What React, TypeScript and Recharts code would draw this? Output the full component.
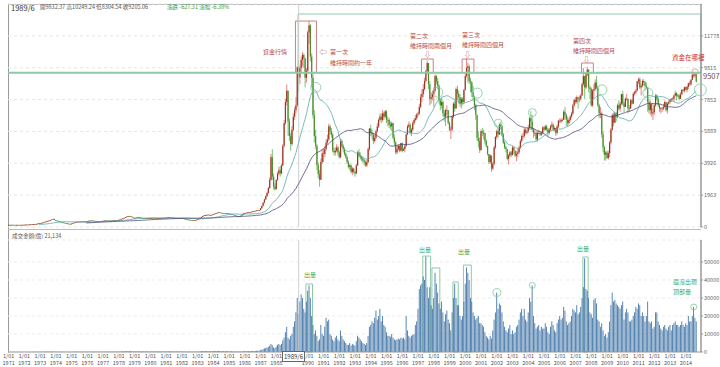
import React from "react";
import {
  ComposedChart,
  Bar,
  Line,
  XAxis,
  YAxis,
  CartesianGrid,
  ReferenceArea,
  ReferenceLine,
  ReferenceDot,
} from "recharts";

const FONT = '"Noto Sans CJK TC", "Noto Sans", sans-serif';

const startYear = 1971;
const endYear = 2014;

// monthly close, 1971/1 .. 2014/9 (one line per year)
const closes: number[] = [
  131, 134, 136, 133, 130, 128, 130, 133, 131, 129, 133, 137,
  140, 145, 150, 148, 152, 160, 165, 172, 180, 190, 205, 227,
  240, 255, 270, 300, 330, 350, 380, 400, 430, 470, 500, 430,
  400, 380, 350, 330, 300, 280, 260, 240, 220, 210, 195, 190,
  210, 240, 270, 300, 320, 330, 320, 330, 335, 340, 345, 345,
  360, 380, 390, 400, 390, 380, 370, 365, 370, 368, 370, 372,
  380, 390, 400, 395, 390, 385, 390, 400, 405, 410, 415, 422,
  440, 470, 500, 530, 560, 600, 640, 660, 680, 650, 600, 551,
  560, 580, 590, 600, 580, 560, 550, 540, 545, 535, 530, 540,
  545, 550, 540, 530, 520, 530, 540, 550, 560, 565, 570, 568,
  575, 590, 600, 610, 590, 580, 570, 560, 555, 550, 545, 551,
  540, 520, 500, 480, 460, 450, 440, 430, 425, 421, 430, 443,
  470, 510, 560, 620, 680, 720, 740, 750, 760, 720, 740, 761,
  780, 820, 850, 880, 900, 880, 870, 860, 850, 840, 835, 838,
  820, 800, 780, 750, 720, 690, 650, 640, 660, 700, 760, 835,
  860, 880, 900, 920, 920, 940, 960, 980, 1000, 1020, 1030, 1039,
  1150, 1300, 1500, 1700, 1900, 2100, 2400, 2900, 4300, 3100, 2500, 2340,
  2900, 3300, 3500, 3300, 3800, 5000, 6400, 7700, 8400, 6500, 5600, 5119,
  6000, 6800, 7200, 7500, 9832, 9205, 9800, 10300, 10600, 10400, 9200, 9624,
  11983, 12424, 10500, 9200, 6900, 5600, 5000, 3800, 3250, 2912, 4000, 4530,
  4500, 4800, 5200, 5400, 6200, 5900, 5700, 4700, 4600, 4700, 4900, 4600,
  4300, 5300, 5000, 4800, 4500, 4300, 4000, 3700, 3800, 3400, 3600, 3377,
  3300, 3800, 4600, 4400, 4300, 4200, 4100, 4000, 3800, 4000, 4800, 6070,
  5800, 5700, 5300, 5500, 5900, 6200, 6600, 6800, 6600, 7000, 6800, 7124,
  6600, 6600, 6300, 6200, 6400, 5500, 5200, 4600, 4800, 5000, 4700, 5173,
  4700, 4800, 5000, 5700, 6200, 6300, 5800, 6000, 6400, 6600, 6700, 6933,
  7000, 7400, 8000, 8200, 8500, 9000, 9600, 10100, 8800, 7900, 8000, 8187,
  8400, 9300, 9000, 8700, 7800, 7500, 7700, 7000, 6800, 7200, 7200, 6418,
  6000, 6000, 6800, 7600, 7300, 8500, 8200, 8000, 7600, 7900, 7700, 8448,
  9300, 9800, 9900, 9000, 8900, 8300, 8000, 7500, 6900, 5500, 5300, 4739,
  5900, 5800, 5800, 5300, 5000, 4500, 4000, 4400, 3600, 3900, 4900, 5551,
  5900, 5700, 6300, 6200, 5700, 5200, 4900, 4800, 4200, 4400, 4600, 4452,
  4900, 4700, 4400, 4500, 4600, 4900, 5300, 5600, 5600, 6000, 5800, 5890,
  6100, 6700, 6500, 6000, 5800, 5800, 5400, 5800, 5800, 5700, 5800, 6139,
  6000, 6200, 6000, 5800, 6000, 6200, 6300, 6000, 6100, 5800, 6200, 6548,
  6500, 6600, 6600, 7100, 6900, 6600, 6400, 6600, 6800, 7000, 7500, 7823,
  7700, 8000, 7900, 7900, 8100, 8800, 9300, 8600, 9400, 9700, 8600, 8506,
  7500, 8400, 8500, 8900, 8600, 7500, 7000, 7000, 5700, 4900, 4460, 4591,
  4250, 4550, 5200, 6000, 6900, 6430, 7000, 6800, 7500, 7300, 7600, 8188,
  7600, 7400, 7900, 7900, 7300, 7300, 7800, 7600, 8200, 8300, 8400, 8972,
  9100, 8600, 8700, 9000, 8900, 8700, 8600, 7700, 7200, 7600, 7000, 7072,
  7500, 8100, 7900, 7500, 7300, 7300, 7300, 7400, 7700, 7200, 7600, 7699,
  7850, 7900, 7900, 8100, 8250, 8060, 8100, 7900, 8170, 8450, 8400, 8611,
  8460, 8640, 8850, 8790, 9075, 9390, 9315, 9436, 8966,
];

// monthly high / low, from 1987/1 on (earlier months have body only)
const wickStart = 192;
const highs: number[] = [
  1170, 1320, 1530, 1740, 1950, 2180, 2480, 3050, 4500, 4796, 3300, 2700,
  2950, 3400, 3700, 3750, 3900, 5100, 6600, 7900, 8789, 8400, 6700, 5800,
  6200, 7000, 7400, 8000, 9900, 10249, 9950, 10500, 10773, 10700, 10400, 9800,
  12100, 12682, 12500, 10700, 9400, 7200, 6000, 5100, 4000, 3500, 4200, 4800,
  4800, 5000, 5400, 5700, 6365, 6300, 6100, 5800, 4900, 4900, 5100, 5000,
  4700, 5450, 5400, 5100, 4900, 4600, 4400, 4100, 3900, 3850, 3700, 3650,
  3450, 3900, 4700, 4800, 4600, 4400, 4350, 4200, 4100, 4150, 4900, 6100,
  6300, 6000, 5800, 5700, 6000, 6400, 6700, 7000, 7000, 7200, 7100, 7200,
  7200, 6800, 6700, 6500, 6500, 6400, 5700, 5300, 5000, 5100, 5050, 5200,
  5200, 4900, 5100, 5800, 6300, 6500, 6400, 6100, 6500, 6700, 6900, 7000,
  7100, 7600, 8200, 8500, 8800, 9200, 9700, 10256, 10100, 9000, 8300, 8400,
  8600, 9400, 9378, 9200, 8800, 7900, 8000, 7800, 7200, 7300, 7500, 7200,
  6500, 6200, 6900, 7700, 7800, 8600, 8710, 8400, 8200, 8000, 8000, 8500,
  9500, 10393, 10100, 10000, 9200, 9000, 8700, 8100, 7600, 6900, 5900, 5500,
  6000, 6100, 6000, 5800, 5400, 5000, 4500, 4500, 4400, 4000, 5000, 5600,
  6000, 6000, 6400, 6484, 6300, 5800, 5300, 5000, 4800, 4500, 4700, 4700,
  5000, 4900, 4700, 4700, 4800, 5000, 5400, 5700, 5800, 6100, 6100, 6000,
  6300, 6800, 7135, 6900, 6100, 6000, 5900, 5900, 6000, 5900, 5900, 6200,
  6200, 6300, 6300, 6100, 6100, 6300, 6500, 6400, 6200, 6100, 6300, 6600,
  6700, 6700, 6700, 7200, 7400, 7000, 6800, 6700, 6900, 7100, 7600, 7900,
  8000, 8100, 8000, 8100, 8200, 8900, 9800, 9300, 9500, 9859, 9700, 8700,
  8600, 8500, 8800, 9100, 9309, 8700, 7600, 7400, 7100, 5900, 5000, 4700,
  4700, 4700, 5300, 6100, 7000, 7050, 7100, 7100, 7600, 7800, 7700, 8200,
  8395, 7700, 8000, 8200, 7900, 7500, 7900, 7900, 8300, 8400, 8500, 9000,
  9200, 9220, 8800, 9100, 9100, 9000, 8900, 8600, 7900, 7800, 7600, 7300,
  7600, 8200, 8170, 8000, 7600, 7400, 7400, 7600, 7800, 7700, 7700, 7800,
  7900, 7950, 8000, 8150, 8400, 8300, 8200, 8200, 8300, 8500, 8500, 8650,
  8650, 8700, 8900, 9000, 9100, 9400, 9569, 9500, 9450,
];
const lows: number[] = [
  1030, 1130, 1280, 1470, 1660, 1850, 2050, 2350, 2850, 2900, 2300, 2241,
  2300, 2850, 3200, 3100, 3250, 3750, 4900, 6300, 7500, 5615, 5300, 4700,
  5000, 5900, 6600, 7000, 7400, 8304, 8800, 9500, 9900, 9800, 8600, 8900,
  9500, 11300, 10200, 8600, 6700, 5200, 4800, 3500, 3000, 2485, 2900, 3900,
  4000, 4300, 4700, 5100, 5300, 5700, 5500, 4600, 4400, 4400, 4600, 4400,
  4200, 4250, 4900, 4600, 4400, 4200, 3900, 3600, 3500, 3300, 3200, 3300,
  3098, 3250, 3750, 4300, 4150, 4050, 3950, 3800, 3700, 3700, 3950, 4700,
  5600, 5400, 5100, 5200, 5400, 5800, 6100, 6500, 6400, 6500, 6600, 6700,
  6400, 6200, 6100, 6000, 5900, 5400, 5000, 4474, 4500, 4700, 4600, 4650,
  4600, 4672, 4600, 4950, 5650, 6100, 5700, 5600, 5900, 6300, 6500, 6600,
  6800, 6900, 7300, 7700, 8000, 8400, 8900, 9400, 8500, 7500, 7600, 7800,
  7400, 8300, 8800, 8500, 7600, 7200, 7300, 6800, 6500, 6220, 6900, 6300,
  5900, 5422, 5900, 6700, 7100, 7300, 7800, 7600, 7400, 7300, 7500, 7600,
  8400, 9200, 8900, 8800, 8300, 8000, 7800, 7200, 6600, 5300, 4900, 4555,
  4700, 5600, 5400, 5100, 4900, 4400, 3900, 3900, 3411, 3500, 3800, 4800,
  5400, 5500, 5700, 6000, 5600, 5100, 4800, 4600, 4100, 3850, 4300, 4300,
  4400, 4500, 4300, 4044, 4300, 4500, 4800, 5200, 5400, 5500, 5700, 5700,
  5800, 6000, 6000, 5900, 5500, 5600, 5300, 5255, 5700, 5600, 5600, 5700,
  5900, 5950, 5900, 5600, 5700, 5900, 6100, 5900, 5900, 5600, 5700, 6100,
  6400, 6400, 6500, 6600, 6700, 6200, 6200, 6300, 6500, 6700, 6900, 7400,
  7600, 7600, 7300, 7700, 7800, 8100, 8700, 7900, 8500, 9300, 8300, 7900,
  7400, 7400, 7900, 8400, 8500, 7400, 6700, 6700, 5500, 4600, 4100, 4089,
  4200, 4150, 4300, 5100, 5900, 6200, 6400, 6500, 6700, 7200, 7100, 7500,
  7500, 7080, 7400, 7800, 7000, 7100, 7300, 7500, 7600, 8100, 8200, 8400,
  8800, 8500, 8100, 8600, 8700, 8400, 8500, 7100, 7000, 6900, 6800, 6600,
  6900, 7400, 7800, 7400, 7100, 7000, 7100, 7200, 7300, 7100, 7000, 7500,
  7600, 7700, 7800, 7700, 8050, 7800, 8000, 7800, 7900, 8150, 8300, 8300,
  8400, 8300, 8500, 8700, 8700, 9050, 9200, 9200, 8900,
];

// monthly turnover (億), 1971/1 .. 2014/9
const volumes: number[] = [
  20, 25, 22, 30, 28, 24, 26, 30, 28, 27, 30, 35,
  35, 40, 45, 42, 50, 55, 60, 65, 70, 80, 90, 100,
  110, 120, 140, 160, 180, 170, 190, 200, 220, 240, 260, 200,
  150, 130, 120, 110, 100, 90, 85, 80, 75, 70, 65, 60,
  80, 100, 120, 140, 150, 160, 140, 130, 140, 150, 150, 140,
  150, 160, 170, 180, 160, 150, 140, 140, 150, 150, 150, 160,
  160, 170, 180, 170, 160, 160, 170, 180, 180, 190, 190, 200,
  220, 260, 300, 340, 380, 420, 460, 480, 500, 460, 400, 350,
  330, 340, 350, 360, 330, 300, 290, 280, 290, 280, 270, 280,
  280, 290, 280, 270, 260, 270, 280, 290, 300, 300, 310, 310,
  320, 340, 350, 360, 330, 310, 300, 290, 280, 270, 270, 280,
  260, 240, 220, 200, 190, 180, 170, 160, 160, 150, 170, 190,
  220, 280, 340, 420, 500, 560, 520, 480, 460, 420, 440, 480,
  500, 560, 600, 620, 600, 560, 520, 500, 480, 460, 460, 470,
  420, 380, 340, 300, 270, 250, 230, 240, 260, 300, 360, 420,
  450, 480, 500, 520, 500, 520, 560, 600, 640, 700, 720, 760,
  1000, 1300, 1600, 2000, 2300, 2500, 2800, 3500, 4500, 3800, 2500, 2200,
  3000, 4000, 4500, 3800, 4500, 6500, 8000, 11000, 14000, 8000, 7000, 9000,
  10000, 14000, 17000, 22000, 30000, 21134, 28000, 32000, 30000, 24000, 22000, 28000,
  34000, 37000, 30000, 20000, 15000, 10000, 12000, 9000, 6000, 7000, 15000, 10000,
  9000, 14000, 19000, 17000, 18000, 10000, 9000, 7000, 6000, 8000, 9000, 7000,
  6000, 12000, 9000, 7000, 6000, 5000, 4000, 4000, 5000, 3500, 4500, 4000,
  3500, 6000, 9000, 8000, 7000, 6000, 5000, 4500, 4000, 5000, 9000, 14000,
  15000, 17000, 16000, 19000, 23000, 18000, 20000, 24000, 17000, 20000, 15000, 14000,
  11000, 9000, 9000, 8500, 10000, 8000, 7000, 6500, 7000, 7500, 7000, 8000,
  7500, 8000, 7000, 20000, 12000, 9000, 8000, 9000, 9500, 10000, 15000, 17000,
  24000, 35000, 37000, 38000, 42000, 40000, 53000, 36000, 30000, 36000, 26000, 24000,
  30000, 44000, 38000, 33000, 27000, 24000, 28000, 22000, 17000, 21000, 23000, 18000,
  16000, 12000, 22000, 30000, 38000, 30000, 26000, 26000, 20000, 18000, 20000, 28000,
  38000, 47000, 44000, 40000, 30000, 28000, 22000, 20000, 18000, 19000, 20000, 16000,
  16000, 15000, 14000, 11000, 9000, 8000, 7000, 9000, 7500, 12000, 18000, 22000,
  33000, 24000, 27000, 26000, 22000, 17000, 14000, 12000, 11000, 13000, 15000, 10000,
  12000, 10000, 11000, 14000, 15000, 18000, 22000, 24000, 20000, 24000, 18000, 17000,
  22000, 30000, 28000, 37000, 20000, 16000, 13000, 14000, 15000, 12000, 14000, 13000,
  13000, 16000, 14000, 11000, 10000, 14000, 17000, 15000, 12000, 11000, 16000, 18000,
  20000, 18000, 19000, 25000, 23000, 17000, 15000, 16000, 17000, 20000, 24000, 23000,
  22000, 26000, 21000, 22000, 25000, 30000, 36000, 52000, 35000, 34000, 30000, 22000,
  21000, 19000, 29000, 30000, 27000, 18000, 17000, 14000, 16000, 12000, 9000, 10000,
  8000, 11000, 17000, 26000, 33000, 28000, 29000, 27000, 26000, 25000, 24000, 26000,
  28000, 18000, 22000, 24000, 22000, 17000, 17000, 18000, 20000, 22000, 25000, 24000,
  27000, 26000, 20000, 22000, 20000, 17000, 20000, 28000, 17000, 16000, 17000, 13000,
  14000, 22000, 22000, 17000, 15000, 13000, 12000, 14000, 15000, 13000, 12000, 14000,
  15000, 12000, 15000, 16000, 17000, 15000, 15000, 14000, 15000, 17000, 15000, 14000,
  16000, 15000, 20000, 17000, 17000, 20000, 25000, 19000, 17000,
];

const priceTicks = [0, 1963, 3926, 5889, 7852, 9815, 11778];
const volumeTicks = [0, 10000, 20000, 30000, 40000, 50000];

// marked circles on the price panel: [month, value, radius]
const priceCircles: [string, number, number][] = [
  ["1990/7", 8600, 5],
  ["1998/4", 8300, 5],
  ["2000/10", 8250, 5],
  ["2002/2", 6400, 4],
  ["2004/4", 7050, 4],
  ["2008/9", 8450, 5],
  ["2011/8", 8250, 5],
  ["2014/12", 8450, 6],
];
const volumeCircles: [string, number, number][] = [
  ["2002/1", 33000, 4],
  ["2004/4", 37000, 3],
  ["2014/7", 25000, 3],
];

// the selected month; its date box covers the 1989 year label
const cursorMonth = "1989/6";

const months: string[] = [];
for (let y = startYear; y <= endYear; y++) {
  for (let m = 1; m <= 12; m++) months.push(`${y}/${m}`);
}
const yearTicks = months.filter((m) => m.endsWith("/1") && m !== "1989/1");

const movingAvg = (n: number) =>
  closes.map((_, i) => {
    if (i < n - 1) return null;
    let s = 0;
    for (let k = i - n + 1; k <= i; k++) s += closes[k];
    return s / n;
  });
const maShort = movingAvg(24);
const maLong = movingAvg(60);

const rows = months.map((d, i) => {
  const c = closes[i];
  if (c === undefined) return { d };
  const o = i > 0 ? closes[i - 1] : c;
  const w = i - wickStart;
  const hi = Math.max(o, c, w >= 0 ? highs[w] : 0);
  const lo = Math.min(o, c, w >= 0 ? lows[w] : Infinity);
  return { d, o, c, hi, lo, range: [lo, hi], ma1: maShort[i], ma2: maLong[i], vol: volumes[i] };
});

const Candle = (p: any) => {
  const { x, y, width, height, payload } = p;
  if (!payload || payload.c === undefined) return null;
  const { o, c, hi, lo } = payload;
  const up = c >= o;
  const top = Math.min(y, y + height);
  const h = Math.abs(height);
  const k = hi > lo ? h / (hi - lo) : 0;
  const bTop = top + (hi - Math.max(o, c)) * k;
  const bH = Math.max(Math.abs(c - o) * k, 0.7);
  const cx = x + width / 2;
  return (
    <g>
      <line x1={cx} x2={cx} y1={top} y2={top + Math.max(h, 0.7)} stroke={up ? "#e0504a" : "#3dab3d"} strokeWidth={0.7} />
      <rect x={cx - 0.6} y={bTop} width={1.2} height={bH} fill={up ? "#94391f" : "#4f8a2a"} />
    </g>
  );
};

const VolBar = (p: any) => {
  const { x, y, width, height } = p;
  if (!height || height <= 0) return null;
  return <rect x={x} y={y} width={Math.max(width - 0.1, 0.5)} height={height} fill="#4879aa" />;
};

const YearTick = (p: any) => {
  const { x, y, payload } = p;
  const yr = String(payload.value).split("/")[0];
  return (
    <g fontFamily={FONT} fontSize={5.5} fill="#555">
      <text x={x} y={y + 5.5} textAnchor="middle">1/01</text>
      <text x={x} y={y + 12.5} textAnchor="middle">{yr}</text>
    </g>
  );
};

const Note = ({ x, y, size = 6, color = "#b84a4a", children }: any) => (
  <div
    style={{
      position: "absolute",
      left: x,
      top: y - size / 2,
      fontSize: size,
      lineHeight: 1,
      color,
      whiteSpace: "nowrap",
    }}
  >
    {children}
  </div>
);

const axisTick = { fontSize: 5.5, fill: "#666", fontFamily: FONT };
const RED_BOX = "#c98282";
const GREEN = "#8fcaa8";

export default function App() {
  return (
    <div
      style={{
        position: "absolute",
        left: 0,
        top: 0,
        width: 720,
        height: 367,
        background: "#fff",
        fontFamily: FONT,
        overflow: "hidden",
      }}
    >
      <div style={{ position: "absolute", left: 8, top: 4, width: 693, height: 348, borderLeft: "1px solid #999", borderTop: "1px solid #bbb" }} />
      <div style={{ position: "absolute", left: 8, top: 229, width: 693, borderTop: "1px solid #bbb" }} />

      <div style={{ position: "absolute", left: 0, top: 229 }}>
        <ComposedChart width={720} height={138} data={rows} margin={{ top: 11, right: 0, left: 8, bottom: 0 }} barCategoryGap={0} barGap={0}>
          <CartesianGrid vertical={false} stroke="#ececec" strokeDasharray="3 3" />
          <XAxis
            dataKey="d"
            ticks={yearTicks}
            interval={0}
            height={15}
            tick={<YearTick />}
            tickLine={false}
            tickSize={0}
            tickMargin={0}
            axisLine={{ stroke: "#999" }}
          />
          <YAxis
            orientation="right"
            domain={[0, 62222]}
            ticks={volumeTicks}
            interval={0}
            width={19}
            tick={axisTick}
            tickSize={2}
            tickMargin={1}
            axisLine={{ stroke: "#999", strokeWidth: 1.5 }}
            tickLine={{ stroke: "#999" }}
          />
          <Bar dataKey="vol" shape={<VolBar />} isAnimationActive={false} />
          <ReferenceLine x={cursorMonth} stroke="#cfcfcf" />
          <ReferenceArea x1="1989/12" x2="1990/4" y1={0} y2={37800} fill="none" fillOpacity={0} stroke={GREEN} />
          <ReferenceArea x1="1997/5" x2="1997/10" y1={0} y2={53300} fill="none" fillOpacity={0} stroke={GREEN} />
          <ReferenceArea x1="1997/12" x2="1998/5" y1={0} y2={46700} fill="none" fillOpacity={0} stroke={GREEN} />
          <ReferenceArea x1="1999/4" x2="1999/7" y1={0} y2={38900} fill="none" fillOpacity={0} stroke={GREEN} />
          <ReferenceArea x1="1999/12" x2="2000/5" y1={0} y2={48300} fill="none" fillOpacity={0} stroke={GREEN} />
          <ReferenceArea x1="2007/7" x2="2007/10" y1={0} y2={52800} fill="none" fillOpacity={0} stroke={GREEN} />
          {volumeCircles.map(([m, v, r]) => (
            <ReferenceDot key={m} x={m} y={v} r={r} fill="none" stroke="#7cc99a" strokeWidth={0.8} />
          ))}
        </ComposedChart>
      </div>

      <div style={{ position: "absolute", left: 0, top: 0 }}>
        <ComposedChart width={720} height={233} data={rows} margin={{ top: 4, right: 0, left: 8, bottom: 6 }} barCategoryGap={0} barGap={0}>
          <CartesianGrid vertical={false} stroke="#e6e6e6" strokeDasharray="3 3" />
          <XAxis dataKey="d" hide />
          <YAxis
            orientation="right"
            domain={[0, 13741]}
            ticks={priceTicks}
            interval={0}
            width={19}
            tick={axisTick}
            tickSize={2}
            tickMargin={1}
            axisLine={{ stroke: "#999", strokeWidth: 1.5 }}
            tickLine={{ stroke: "#999" }}
            allowDataOverflow
          />
          <ReferenceLine x={cursorMonth} stroke="#cfcfcf" />
          <ReferenceArea x1="1989/6" x2="2014/12" y1={9507} y2={13125} fill="none" fillOpacity={0} stroke={GREEN} strokeWidth={1} />
          <ReferenceLine y={9507} segment={[{ x: "1989/6", y: 9507 }, { x: "2014/12", y: 9507 }]} stroke={GREEN} strokeWidth={2} />
          <ReferenceArea x1="1989/4" x2="1990/7" y1={9507} y2={12690} fill="none" fillOpacity={0} stroke={RED_BOX} />
          <ReferenceArea x1="1997/4" x2="1997/12" y1={9507} y2={10350} fill="none" fillOpacity={0} stroke={RED_BOX} />
          <ReferenceArea x1="1999/11" x2="2000/7" y1={9507} y2={10350} fill="none" fillOpacity={0} stroke={RED_BOX} />
          <ReferenceArea x1="2007/6" x2="2008/2" y1={9507} y2={10105} fill="none" fillOpacity={0} stroke={RED_BOX} />
          <Bar dataKey="range" shape={<Candle />} isAnimationActive={false} />
          <Line dataKey="ma1" stroke="#5aa9a9" strokeWidth={0.8} dot={false} isAnimationActive={false} />
          <Line dataKey="ma2" stroke="#4d4a7c" strokeWidth={0.8} dot={false} isAnimationActive={false} />
          {priceCircles.map(([m, v, r]) => (
            <ReferenceDot key={m} x={m} y={v} r={r} fill="none" stroke="#7cc99a" strokeWidth={0.8} />
          ))}
          <ReferenceDot x="2014/8" y={9560} r={3} fill="none" stroke="#c99" strokeWidth={0.8} />
        </ComposedChart>
      </div>

      {/* header */}
      <Note x={11} y={8} size={7.5} color="#333">1989/6</Note>
      <Note x={40} y={8} size={5.5} color="#555">開9832.37 高10249.24 低8304.54 收9205.06</Note>
      <Note x={167} y={8} size={5.5} color="#3a9a3a">漲跌 -627.31 漲幅 -6.38%</Note>
      <Note x={12} y={237} size={5.5} color="#555">成交金額(億) 21,134</Note>

      {/* price annotations */}
      <Note x={263} y={52}>資金行情</Note>
      <Note x={319} y={52} size={8} color="#a66">⇦</Note>
      <Note x={330} y={52}>第一次</Note>
      <Note x={330} y={63}>維持時間約一年</Note>
      <Note x={410} y={36}>第二次</Note>
      <Note x={410} y={46}>維持時間兩個月</Note>
      <Note x={424} y={54} size={7} color="#a66">⇩</Note>
      <Note x={462} y={35}>第三次</Note>
      <Note x={462} y={45}>維持時間四個月</Note>
      <Note x={464} y={54} size={7} color="#a66">⇩</Note>
      <Note x={573} y={41}>第四次</Note>
      <Note x={573} y={51}>維持時間四個月</Note>
      <Note x={583} y={59} size={7} color="#a66">⇩</Note>
      <Note x={672} y={57} size={6.5} color="#d03030">資金在哪裡</Note>
      <Note x={703} y={76} size={7.5} color="#7b4b3b">9507</Note>

      {/* volume annotations */}
      <Note x={304} y={275} color="#3daa5a">出量</Note>
      <Note x={419} y={250} color="#3daa5a">出量</Note>
      <Note x={458} y={252} color="#3daa5a">出量</Note>
      <Note x={577} y={249} color="#3daa5a">出量</Note>
      <Note x={673} y={282} color="#3daa5a">還沒出現</Note>
      <Note x={673} y={292} color="#3daa5a">頂部量</Note>

      <div
        style={{
          position: "absolute",
          left: 282,
          top: 351,
          width: 21,
          height: 9,
          border: "1px solid #666",
          background: "#fff",
          fontSize: 6,
          lineHeight: "9px",
          textAlign: "center",
          color: "#333",
        }}
      >
        {cursorMonth}
      </div>
    </div>
  );
}
